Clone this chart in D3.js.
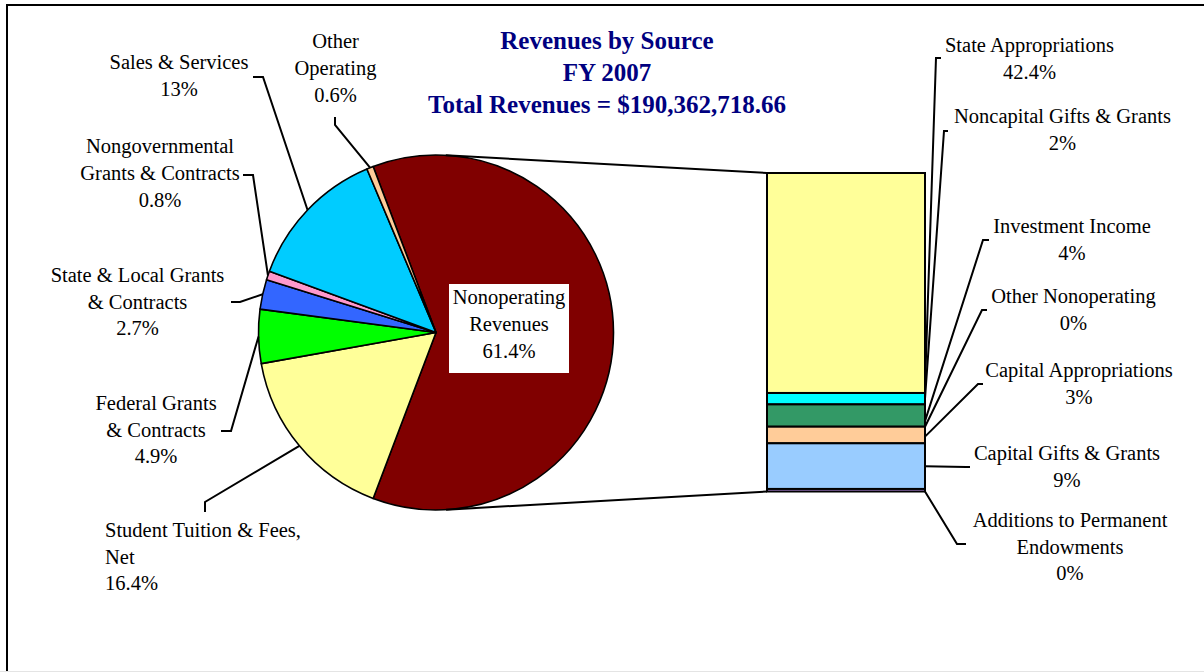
<!DOCTYPE html>
<html>
<head>
<meta charset="utf-8">
<script src="https://cdn.jsdelivr.net/npm/d3@7"></script>
<style>
  html, body { margin: 0; padding: 0; background: #fff; }
  svg { display: block; }
  text { font-family: "Liberation Serif", "Times New Roman", serif; }
</style>
</head>
<body>
<svg id="chart" width="1204" height="672"></svg>
<script>
// ---------- DATA ----------
const titleLines = ["Revenues by Source", "FY 2007", "Total Revenues = $190,362,718.66"];

const pieCategories = [
  "Nonoperating Revenues",
  "Student Tuition & Fees, Net",
  "Federal Grants & Contracts",
  "State & Local Grants & Contracts",
  "Nongovernmental Grants & Contracts",
  "Sales & Services",
  "Other Operating"
];
const pieValues = [61.4, 16.4, 4.9, 2.7, 0.8, 13, 0.6];
const pieColors = ["#800000", "#FFFF99", "#00FF00", "#3366FF", "#FF99CC", "#00CCFF", "#FFCC99"];
const pieLabelLines = [
  ["Nonoperating", "Revenues"],
  ["Student Tuition & Fees,", "Net"],
  ["Federal Grants", "& Contracts"],
  ["State & Local Grants", "& Contracts"],
  ["Nongovernmental", "Grants & Contracts"],
  ["Sales & Services"],
  ["Other", "Operating"]
];
const piePctLabels = ["61.4%", "16.4%", "4.9%", "2.7%", "0.8%", "13%", "0.6%"];

const barCategories = [
  "State Appropriations",
  "Noncapital Gifts & Grants",
  "Investment Income",
  "Other Nonoperating",
  "Capital Appropriations",
  "Capital Gifts & Grants",
  "Additions to Permanent Endowments"
];
const barValues = [42.4, 2.2, 4.3, 0, 3.2, 8.8, 0.49];
const barColors = ["#FFFF99", "#00FFFF", "#339966", "#FF6600", "#FFCC99", "#99CCFF", "#CC99FF"];
const barLabelLines = [
  ["State Appropriations"],
  ["Noncapital Gifts & Grants"],
  ["Investment Income"],
  ["Other Nonoperating"],
  ["Capital Appropriations"],
  ["Capital Gifts & Grants"],
  ["Additions to Permanent", "Endowments"]
];
const barPctLabels = ["42.4%", "2%", "4%", "0%", "3%", "9%", "0%"];

// ---------- LAYOUT ----------
const FONT = 20.5;
const cx = 436, cy = 332.5, R = 177.5;
const barX0 = 767, barX1 = 925, barTop = 173, barBottom = 491.5;

const pieLabelLayout = [
  { x: 509, y: 304, dy: 27, anchor: "middle", box: [449, 284, 120, 89] },
  { x: 105, y: 537, dy: 26.5, anchor: "start", stub: [[205, 512], [205, 502]] },
  { x: 156, y: 410, dy: 26.5, anchor: "middle", stub: [[221, 431], [231, 431]] },
  { x: 137.5, y: 282, dy: 26.5, anchor: "middle", stub: [[231, 302], [240, 302]] },
  { x: 160, y: 153, dy: 27, anchor: "middle", stub: [[243, 175], [253, 175]] },
  { x: 179, y: 69, dy: 27, anchor: "middle", stub: [[253, 77], [263, 77]] },
  { x: 335.5, y: 48, dy: 27, anchor: "middle", stub: [[335, 117], [335, 125]] }
];
const barLabelLayout = [
  { x: 1029.5, y: 52, dy: 26.5, stub: [[941, 58], [936, 58]], frac: 0.97 },
  { x: 1062.5, y: 123, dy: 27, stub: [[948, 131], [944, 131]], frac: 0.5 },
  { x: 1072, y: 233, dy: 27, stub: [[989, 240], [983, 240]], frac: 0.75 },
  { x: 1073.5, y: 303, dy: 26.5, stub: [[987, 310], [982, 310]], frac: 0.5 },
  { x: 1079, y: 377, dy: 27, stub: [[983, 384], [978, 384]], frac: 0.6 },
  { x: 1067, y: 460, dy: 27, stub: [[970, 467], [966, 467]], frac: 0.5 },
  { x: 1070, y: 527, dy: 26.5, stub: [[966, 544], [957, 544]], frac: 1.0 }
];

// ---------- DRAW ----------
const svg = d3.select("#chart");

svg.append("rect").attr("x", 7).attr("y", 5).attr("width", 1300).attr("height", 800)
  .attr("fill", "#fff").attr("stroke", "#000").attr("stroke-width", 2);
svg.append("line").attr("x1", 0).attr("x2", 1204).attr("y1", 671.5).attr("y2", 671.5)
  .attr("stroke", "#e4e4e4").attr("stroke-width", 1);

svg.append("g").selectAll("text").data(titleLines).join("text")
  .attr("x", 607).attr("y", (d, i) => 49 + i * 32)
  .attr("text-anchor", "middle")
  .attr("font-weight", "bold").attr("font-size", 25).attr("fill", "#000080")
  .text(d => d);

// pie
const pieTotal = d3.sum(pieValues);
const startA = Math.PI / 2 - Math.PI * pieValues[0] / pieTotal;
const pie = d3.pie().sort(null).value(d => d).startAngle(startA).endAngle(startA + 2 * Math.PI);
const arcs = pie(pieValues);
const arc = d3.arc().innerRadius(0).outerRadius(R);

const gPie = svg.append("g").attr("transform", `translate(${cx},${cy})`);
gPie.selectAll("path").data(arcs).join("path")
  .attr("d", arc)
  .attr("fill", (d, i) => pieColors[i])
  .attr("stroke", "#000").attr("stroke-width", 1.6).attr("stroke-linejoin", "round");

// bar (stacked, top to bottom)
const barTotal = d3.sum(barValues);
const yBar = d3.scaleLinear().domain([0, barTotal]).range([barTop, barBottom]);
const cum = d3.cumsum(barValues);
const segs = barValues.map((v, i) => ({ v, i, y0: yBar(cum[i] - v), y1: yBar(cum[i]) }));
svg.append("g").selectAll("rect").data(segs).join("rect")
  .attr("x", barX0).attr("width", barX1 - barX0)
  .attr("y", d => d.y0).attr("height", d => Math.max(0, d.y1 - d.y0))
  .attr("fill", d => barColors[d.i])
  .attr("stroke", "#000").attr("stroke-width", 2);

function tangentPoint(px, py, upper) {
  const dx = px - cx, dy = py - cy;
  const d = Math.hypot(dx, dy);
  const base = Math.atan2(dy, dx);
  const off = Math.acos(R / d);
  const a = upper ? base - off : base + off;
  return [cx + R * Math.cos(a), cy + R * Math.sin(a)];
}
const tTop = tangentPoint(barX0, barTop, true);
const tBot = tangentPoint(barX0, barBottom, false);
svg.append("line").attr("x1", tTop[0]).attr("y1", tTop[1]).attr("x2", barX0).attr("y2", barTop)
  .attr("stroke", "#000").attr("stroke-width", 2);
svg.append("line").attr("x1", tBot[0]).attr("y1", tBot[1]).attr("x2", barX0).attr("y2", barBottom)
  .attr("stroke", "#000").attr("stroke-width", 2);

const line = d3.line();
arcs.forEach((a, i) => {
  const L = pieLabelLayout[i];
  const mid = (a.startAngle + a.endAngle) / 2;
  const edge = [cx + R * Math.sin(mid), cy - R * Math.cos(mid)];
  if (L.stub) {
    svg.append("path").attr("d", line([L.stub[0], L.stub[1], edge]))
      .attr("fill", "none").attr("stroke", "#000").attr("stroke-width", 2);
  }
  if (L.box) {
    svg.append("rect").attr("x", L.box[0]).attr("y", L.box[1]).attr("width", L.box[2]).attr("height", L.box[3])
      .attr("fill", "#fff");
  }
  const lines = pieLabelLines[i].concat([piePctLabels[i]]);
  svg.append("g").selectAll("text").data(lines).join("text")
    .attr("x", L.x).attr("y", (d, k) => L.y + k * L.dy)
    .attr("text-anchor", L.anchor).attr("font-size", FONT).attr("fill", "#000")
    .text(d => d);
});

segs.forEach((s, i) => {
  const L = barLabelLayout[i];
  const end = [barX1, s.y0 + (s.y1 - s.y0) * L.frac];
  svg.append("path").attr("d", line([L.stub[0], L.stub[1], end]))
    .attr("fill", "none").attr("stroke", "#000").attr("stroke-width", 2);
  const lines = barLabelLines[i].concat([barPctLabels[i]]);
  svg.append("g").selectAll("text").data(lines).join("text")
    .attr("x", L.x).attr("y", (d, k) => L.y + k * L.dy)
    .attr("text-anchor", "middle").attr("font-size", FONT).attr("fill", "#000")
    .text(d => d);
});
</script>
</body>
</html>
